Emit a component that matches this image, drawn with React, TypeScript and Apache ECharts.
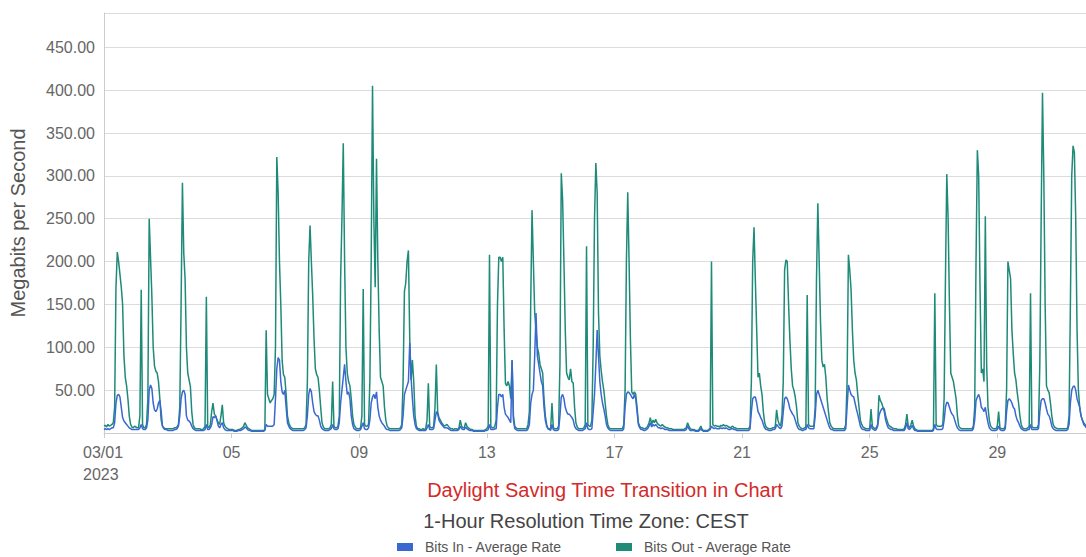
import React, { useEffect, useRef } from 'react';
import * as echarts from 'echarts';

// Day tick labels (every 4 days, starting 03/01/2023)
const dayTickLabels = ['03/01', '05', '09', '13', '17', '21', '25', '29'];
const yearLabel = '2023';
const yTickValues = [50, 100, 150, 200, 250, 300, 350, 400, 450];

// Hourly values (Mbit/s), one row of 24 hours per day, March 2023
const bitsOutDaily: number[][] = [
  [8, 9, 7, 10, 8, 9, 10, 12, 30, 170, 211, 200, 185, 170, 150, 90, 65, 55, 40, 20, 10, 7, 6, 8],
  [7, 6, 6, 20, 167, 10, 6, 6, 10, 40, 250, 205, 160, 100, 78, 72, 70, 60, 40, 15, 8, 6, 5, 5],
  [5, 5, 5, 5, 5, 6, 6, 7, 10, 30, 150, 292, 210, 180, 100, 70, 62, 54, 25, 10, 6, 5, 5, 5],
  [5, 4, 4, 5, 8, 159, 8, 6, 10, 25, 35, 22, 20, 15, 12, 10, 20, 33, 12, 8, 6, 5, 4, 4],
  [4, 4, 3, 3, 3, 4, 4, 5, 6, 8, 12, 9, 6, 5, 4, 3, 3, 3, 3, 3, 3, 3, 3, 3],
  [3, 4, 120, 45, 40, 35, 38, 40, 45, 100, 322, 280, 200, 150, 85, 68, 65, 45, 20, 12, 8, 6, 5, 5],
  [5, 5, 5, 5, 5, 5, 5, 6, 10, 60, 200, 242, 200, 160, 110, 75, 68, 65, 50, 30, 12, 7, 5, 5],
  [5, 5, 6, 10, 60, 8, 6, 6, 8, 20, 180, 250, 338, 200, 100, 70, 60, 55, 40, 20, 10, 7, 5, 5],
  [5, 6, 20, 168, 10, 8, 8, 10, 60, 200, 405, 250, 170, 320, 200, 120, 65, 60, 55, 30, 15, 8, 6, 5],
  [5, 5, 5, 5, 5, 5, 5, 6, 10, 60, 165, 175, 200, 213, 110, 62, 85, 60, 20, 8, 5, 5, 4, 4],
  [5, 4, 5, 15, 58, 8, 6, 6, 8, 30, 80, 25, 18, 15, 12, 10, 8, 9, 10, 8, 6, 5, 5, 4],
  [5, 5, 4, 6, 15, 8, 6, 6, 12, 8, 6, 5, 4, 4, 3, 3, 3, 3, 3, 3, 3, 3, 3, 4],
  [5, 8, 208, 8, 6, 6, 8, 15, 150, 205, 205, 200, 205, 120, 58, 55, 60, 55, 40, 85, 20, 8, 6, 5],
  [5, 5, 5, 5, 5, 5, 5, 10, 25, 150, 260, 200, 140, 120, 100, 93, 80, 75, 70, 40, 20, 10, 5, 5],
  [5, 35, 6, 5, 5, 5, 8, 80, 303, 272, 200, 120, 70, 65, 62, 75, 60, 58, 30, 12, 7, 5, 5, 5],
  [5, 6, 10, 218, 10, 8, 8, 15, 100, 250, 315, 280, 140, 90, 73, 60, 50, 35, 20, 10, 6, 5, 5, 5],
  [5, 5, 5, 5, 5, 5, 5, 10, 50, 200, 281, 200, 110, 48, 45, 48, 45, 30, 12, 8, 6, 6, 5, 5],
  [6, 8, 12, 18, 10, 15, 12, 16, 12, 10, 9, 8, 10, 8, 7, 6, 6, 5, 5, 5, 4, 4, 4, 4],
  [4, 4, 4, 4, 4, 5, 6, 12, 8, 5, 4, 4, 4, 3, 3, 3, 5, 8, 4, 3, 3, 3, 3, 4],
  [6, 200, 10, 8, 9, 8, 8, 7, 9, 8, 10, 8, 9, 8, 7, 6, 7, 8, 6, 6, 5, 5, 5, 5],
  [5, 5, 5, 5, 5, 5, 8, 60, 200, 240, 178, 120, 65, 70, 55, 45, 25, 12, 7, 6, 5, 5, 5, 6],
  [6, 8, 27, 15, 10, 8, 20, 60, 190, 202, 200, 150, 108, 75, 55, 50, 42, 30, 12, 8, 6, 5, 5, 6],
  [6, 161, 10, 8, 8, 8, 8, 30, 180, 268, 200, 130, 85, 77, 80, 65, 40, 25, 12, 8, 6, 5, 5, 5],
  [5, 5, 5, 5, 5, 5, 10, 60, 208, 190, 167, 120, 85, 70, 62, 45, 30, 15, 10, 7, 6, 5, 5, 5],
  [5, 28, 8, 6, 5, 6, 10, 44, 38, 35, 30, 28, 20, 15, 10, 8, 7, 6, 5, 5, 5, 4, 4, 4],
  [4, 4, 5, 10, 22, 8, 6, 10, 15, 8, 5, 4, 3, 3, 3, 3, 3, 3, 3, 3, 3, 3, 3, 3],
  [5, 163, 10, 8, 8, 8, 8, 10, 40, 180, 302, 250, 150, 70, 65, 60, 50, 40, 20, 8, 6, 5, 5, 5],
  [5, 5, 5, 5, 5, 5, 8, 30, 200, 330, 300, 170, 70, 75, 60, 253, 80, 30, 15, 8, 6, 5, 5, 5],
  [8, 25, 6, 5, 5, 5, 8, 50, 200, 190, 180, 120, 93, 70, 62, 47, 35, 20, 10, 6, 5, 5, 5, 6],
  [8, 163, 8, 6, 6, 6, 6, 10, 80, 250, 397, 300, 150, 55, 50, 47, 35, 20, 10, 7, 6, 5, 5, 5],
  [5, 5, 5, 5, 5, 6, 20, 150, 300, 335, 327, 250, 120, 50, 30, 20, 15, 12, 10, 8, 6, 5, 5, 5],
];

const bitsInDaily: number[][] = [
  [4, 5, 4, 5, 4, 5, 6, 6, 12, 35, 44, 45, 42, 30, 18, 14, 12, 10, 8, 6, 5, 4, 4, 4],
  [4, 4, 4, 6, 10, 5, 4, 4, 6, 15, 50, 56, 52, 35, 27, 25, 28, 35, 38, 25, 8, 5, 4, 4],
  [3, 3, 3, 3, 3, 4, 4, 5, 8, 20, 40, 48, 50, 45, 20, 15, 14, 12, 8, 5, 4, 3, 3, 3],
  [3, 3, 3, 3, 4, 10, 4, 4, 6, 10, 19, 18, 20, 15, 8, 6, 10, 12, 6, 4, 3, 3, 3, 3],
  [3, 3, 2, 2, 2, 3, 3, 3, 4, 5, 7, 6, 4, 3, 3, 2, 2, 2, 2, 2, 2, 2, 2, 2],
  [2, 3, 10, 8, 8, 8, 8, 8, 10, 40, 75, 88, 85, 60, 48, 45, 50, 30, 12, 8, 5, 4, 3, 3],
  [3, 3, 3, 3, 3, 3, 3, 4, 6, 20, 45, 52, 48, 35, 25, 22, 20, 20, 15, 8, 5, 4, 3, 3],
  [3, 3, 4, 5, 10, 5, 4, 4, 5, 12, 35, 50, 65, 80, 60, 45, 48, 40, 20, 10, 5, 4, 3, 3],
  [3, 4, 8, 12, 5, 4, 4, 6, 15, 35, 42, 45, 40, 48, 30, 20, 15, 12, 10, 8, 5, 4, 4, 3],
  [3, 3, 3, 3, 3, 3, 3, 4, 6, 20, 45, 50, 55, 60, 105, 65, 40, 20, 10, 5, 4, 3, 3, 3],
  [3, 3, 3, 6, 10, 4, 4, 4, 5, 15, 25, 22, 15, 12, 10, 8, 6, 6, 6, 5, 4, 3, 3, 3],
  [3, 3, 3, 4, 8, 5, 4, 4, 7, 5, 4, 3, 3, 3, 2, 2, 2, 2, 2, 2, 2, 2, 2, 3],
  [3, 4, 10, 4, 4, 4, 5, 5, 30, 45, 45, 42, 45, 30, 22, 20, 18, 15, 12, 85, 15, 5, 4, 3],
  [3, 3, 3, 3, 3, 3, 3, 5, 10, 35, 45, 50, 90, 140, 90, 80, 70, 60, 55, 30, 15, 8, 5, 4],
  [3, 10, 4, 3, 3, 3, 4, 20, 42, 45, 40, 30, 25, 22, 22, 20, 18, 15, 8, 5, 4, 3, 3, 3],
  [3, 4, 5, 12, 5, 4, 4, 5, 25, 45, 80, 120, 90, 60, 45, 35, 28, 20, 10, 6, 4, 3, 3, 3],
  [3, 3, 3, 3, 3, 3, 3, 5, 30, 45, 48, 47, 45, 42, 40, 45, 40, 25, 10, 6, 4, 4, 3, 3],
  [4, 5, 8, 12, 7, 10, 8, 10, 8, 6, 6, 5, 6, 5, 4, 4, 4, 3, 3, 3, 3, 3, 3, 3],
  [3, 3, 3, 3, 3, 3, 4, 8, 5, 3, 3, 3, 3, 2, 2, 2, 3, 5, 3, 2, 2, 2, 2, 3],
  [4, 8, 6, 5, 6, 5, 5, 5, 6, 5, 6, 5, 6, 5, 4, 4, 5, 5, 4, 4, 3, 3, 3, 3],
  [3, 3, 3, 3, 3, 3, 5, 25, 40, 42, 42, 35, 25, 22, 18, 15, 10, 6, 4, 4, 3, 3, 3, 4],
  [4, 5, 10, 8, 6, 5, 8, 25, 40, 42, 40, 35, 28, 25, 22, 20, 15, 10, 6, 4, 4, 3, 3, 4],
  [4, 10, 6, 5, 5, 5, 5, 20, 45, 50, 45, 40, 35, 30, 25, 20, 15, 10, 6, 4, 4, 3, 3, 3],
  [3, 3, 3, 3, 3, 3, 5, 30, 56, 50, 45, 43, 42, 35, 28, 22, 15, 8, 5, 4, 4, 3, 3, 3],
  [3, 10, 5, 4, 3, 4, 8, 20, 25, 28, 29, 25, 15, 10, 6, 5, 4, 4, 3, 3, 3, 3, 3, 3],
  [3, 3, 3, 6, 12, 5, 4, 6, 9, 5, 3, 3, 2, 2, 2, 2, 2, 2, 2, 2, 2, 2, 2, 2],
  [3, 10, 5, 4, 4, 4, 4, 5, 15, 30, 36, 35, 30, 25, 22, 20, 15, 10, 6, 4, 3, 3, 3, 3],
  [3, 3, 3, 3, 3, 3, 5, 15, 38, 42, 45, 40, 30, 28, 25, 30, 20, 12, 6, 4, 3, 3, 3, 3],
  [4, 8, 4, 3, 3, 3, 5, 25, 38, 40, 38, 35, 30, 28, 20, 15, 12, 8, 5, 4, 3, 3, 3, 4],
  [4, 10, 4, 4, 4, 4, 4, 5, 25, 38, 40, 40, 35, 28, 22, 20, 15, 8, 5, 4, 3, 3, 3, 3],
  [3, 3, 3, 3, 3, 4, 10, 35, 50, 54, 55, 50, 40, 35, 30, 20, 15, 10, 8, 6, 5, 4, 4, 4],
];

const HOURS_PER_DAY = 24;
const TICK_DAYS = 4;
const FONT = '"Liberation Sans", Arial, Helvetica, sans-serif';

const toPoints = (daily: number[][]) =>
  daily.flat().map((v, i) => [i, v]);

export default function App() {
  const ref = useRef<HTMLDivElement>(null);

  useEffect(() => {
    if (!ref.current) return;
    const chart = echarts.init(ref.current, null, { renderer: 'svg' });
    const totalHours = bitsOutDaily.length * HOURS_PER_DAY;
    const tickStep = HOURS_PER_DAY * TICK_DAYS;

    chart.setOption({
      animation: false,
      backgroundColor: '#ffffff',
      textStyle: { fontFamily: FONT },
      grid: {
        left: 104,
        top: 13,
        width: 989,
        height: 420,
        containLabel: false,
        outerBoundsMode: 'none',
      },
      title: [
        {
          text: 'Daylight Saving Time Transition in Chart',
          left: 605,
          top: 480,
          textAlign: 'center',
          padding: 0,
          textStyle: { color: '#d42a2a', fontSize: 20, fontWeight: 'normal', fontFamily: FONT },
        },
        {
          text: '1-Hour Resolution Time Zone: CEST',
          left: 586,
          top: 511,
          textAlign: 'center',
          padding: 0,
          textStyle: { color: '#444444', fontSize: 20, fontWeight: 'normal', fontFamily: FONT },
        },
      ],
      legend: [
        {
          data: ['Bits In - Average Rate'],
          left: 397,
          top: 540,
          padding: 0,
          itemWidth: 16,
          itemHeight: 8,
          icon: 'rect',
          textStyle: { color: '#555555', fontSize: 14, fontFamily: FONT, padding: [0, 0, 0, 7] },
        },
        {
          data: ['Bits Out - Average Rate'],
          left: 616,
          top: 540,
          padding: 0,
          itemWidth: 16,
          itemHeight: 8,
          icon: 'rect',
          textStyle: { color: '#555555', fontSize: 14, fontFamily: FONT, padding: [0, 0, 0, 7] },
        },
      ],
      xAxis: {
        type: 'value',
        min: 0,
        max: totalHours,
        interval: tickStep,
        axisLine: { show: true, lineStyle: { color: '#cccccc' } },
        axisTick: { show: true, length: 5, lineStyle: { color: '#cccccc' } },
        splitLine: { show: false },
        axisLabel: {
          showMaxLabel: false,
          margin: 8,
          color: '#666666',
          fontSize: 16,
          fontFamily: FONT,
          lineHeight: 22,
          formatter: (v: number) => {
            const idx = v / tickStep;
            if (!Number.isInteger(idx) || idx >= dayTickLabels.length) return '';
            if (idx === 0) return `{f|${dayTickLabels[0]}}\n{f|${yearLabel}}`;
            return dayTickLabels[idx];
          },
          rich: {
            f: { width: 42, align: 'left', color: '#666666', fontSize: 16, fontFamily: FONT, lineHeight: 22 },
          },
        },
      },
      yAxis: {
        type: 'value',
        min: 0,
        max: 490,
        interval: 50,
        name: 'Megabits per Second',
        nameLocation: 'middle',
        nameGap: 76,
        nameTextStyle: { color: '#555555', fontSize: 20, fontFamily: FONT },
        axisLine: { show: true, lineStyle: { color: '#cccccc' } },
        axisTick: { show: false },
        splitLine: { show: true, lineStyle: { color: '#dcdcdc', width: 1.2 } },
        axisLabel: {
          margin: 9,
          color: '#666666',
          fontSize: 16,
          fontFamily: FONT,
          formatter: (v: number) => (yTickValues.includes(v) ? v.toFixed(2) : ''),
        },
      },
      series: [
        {
          name: 'Bits Out - Average Rate',
          type: 'line',
          data: toPoints(bitsOutDaily),
          showSymbol: false,
          symbol: 'none',
          color: '#1e8a78',
          lineStyle: { width: 1.5, color: '#1e8a78' },
          itemStyle: { color: '#1e8a78' },
          z: 2,
        },
        {
          name: 'Bits In - Average Rate',
          type: 'line',
          data: toPoints(bitsInDaily),
          showSymbol: false,
          symbol: 'none',
          color: '#3a68d0',
          lineStyle: { width: 1.5, color: '#3a68d0' },
          itemStyle: { color: '#3a68d0' },
          z: 3,
        },
      ],
    });

    return () => chart.dispose();
  }, []);

  return (
    <div
      style={{
        position: 'fixed',
        left: 0,
        top: 0,
        width: 1086,
        height: 557,
        overflow: 'hidden',
        background: '#fff',
      }}
    >
      <div ref={ref} style={{ width: 1100, height: 557 }} />
    </div>
  );
}
